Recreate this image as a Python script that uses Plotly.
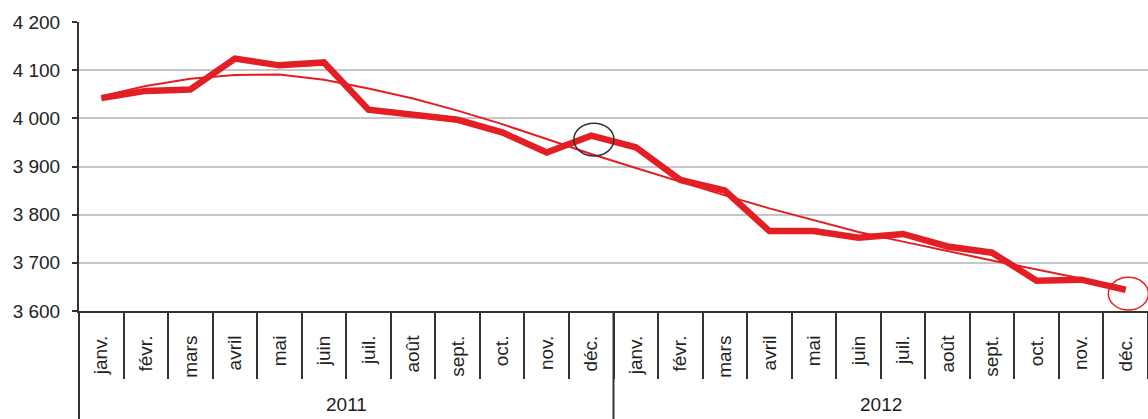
import plotly.graph_objects as go

months = ["janv.", "févr.", "mars", "avril", "mai", "juin", "juil.", "août",
          "sept.", "oct.", "nov.", "déc."] * 2
years = ["2011", "2012"]
values = [4042, 4057, 4060, 4124, 4110, 4116, 4018, 4007, 3997, 3971, 3929, 3964,
          3940, 3872, 3850, 3766, 3766, 3752, 3760, 3734, 3721, 3663, 3665, 3644]
trend = [4046, 4067, 4082, 4090, 4091, 4080, 4062, 4041, 4016, 3988, 3957, 3926,
         3897, 3868, 3840, 3813, 3788, 3764, 3744, 3724, 3705, 3686, 3667, 3649]
circled = [(11, "#333333"), (23, "#e31e24")]

RED = "#e31e24"
DARK = "#333333"
FONT = "Liberation Sans, Arial, sans-serif"

idx = list(range(len(months)))
bounds = [i - 0.5 for i in range(len(months) + 1)]
n = len(months)

fig = go.Figure()
fig.add_trace(go.Scatter(x=idx, y=trend, mode="lines", xaxis="x2",
                         line=dict(color=RED, width=2), hoverinfo="skip",
                         showlegend=False))
fig.add_trace(go.Scatter(x=idx, y=values, mode="lines",
                         line=dict(color=RED, width=6.5), showlegend=False))

shapes = []
for i, col in circled:
    cx = i + 0.06
    cy = values[i] - 8
    shapes.append(dict(type="circle", xref="x", yref="y",
                       x0=cx - 0.45, x1=cx + 0.45, y0=cy - 34, y1=cy + 34,
                       line=dict(color=col, width=1.5), layer="above"))
# year dividers
shapes.append(dict(type="line", xref="paper", yref="paper", x0=0, x1=0, y0=0, y1=-0.38,
                   line=dict(color=DARK, width=2)))
shapes.append(dict(type="line", xref="x", yref="paper", x0=n / 2 - 0.5, x1=n / 2 - 0.5,
                   y0=0, y1=-0.38, line=dict(color=DARK, width=2)))

annotations = []
for k, yr in enumerate(years):
    annotations.append(dict(x=(n / 2) * k + (n / 2 - 1) / 2, y=-0.325, xref="x", yref="paper",
                            text=yr, showarrow=False, yanchor="middle",
                            font=dict(size=19, color="#222222", family=FONT)))

fig.update_layout(
    width=1148, height=419,
    margin=dict(l=79, r=0, t=22, b=108),
    plot_bgcolor="white", paper_bgcolor="white",
    separators=", ",
    font=dict(family=FONT, size=19, color="#222222"),
    shapes=shapes, annotations=annotations,
    xaxis=dict(range=[-0.5, n - 0.5], tickmode="array", tickvals=idx, ticktext=months,
               tickangle=-90, showline=True, linecolor=DARK, linewidth=2,
               showgrid=False, zeroline=False, ticks="", ticklabelstandoff=15,
               tickfont=dict(size=19, family=FONT, color="#222222")),
    xaxis2=dict(overlaying="x", anchor="y", side="bottom", range=[-0.5, n - 0.5],
                tickmode="array", tickvals=bounds, ticks="outside", ticklen=67,
                tickwidth=2, tickcolor=DARK, showticklabels=False, showgrid=False,
                showline=False, zeroline=False),
    yaxis=dict(range=[3600, 4200], dtick=100, tickformat=",d",
               showgrid=True, gridcolor="#c6c6c6", gridwidth=2,
               showline=True, linecolor=DARK, linewidth=2,
               ticks="outside", ticklen=5, tickwidth=2, tickcolor=DARK,
               zeroline=False, ticklabelstandoff=8,
               tickfont=dict(size=19, family=FONT, color="#222222")),
)

fig.write_html("out.html", config={"displayModeBar": False},
               post_script="document.body.style.margin='0';")
